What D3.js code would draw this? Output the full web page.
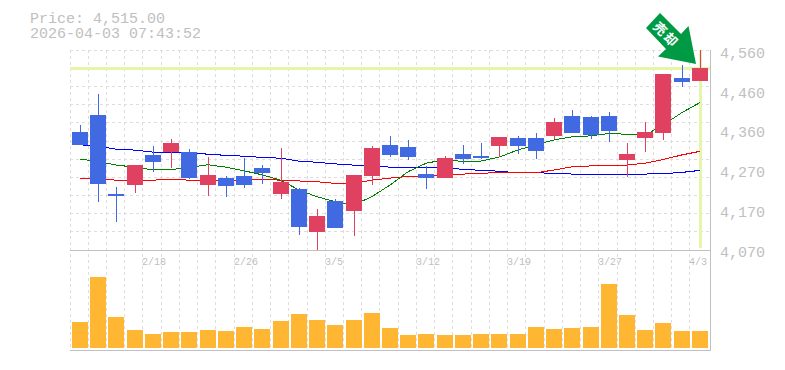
<!DOCTYPE html>
<html>
<head>
<meta charset="utf-8">
<script src="https://cdn.jsdelivr.net/npm/d3@7"></script>
<style>
html, body { margin: 0; padding: 0; background: #fff; }
svg { display: block; }
text { font-family: "Liberation Mono", monospace; }
</style>
</head>
<body>
<div class="container"></div>
<script>
var width = 785;
var height = 370;

var dates = ['2/12','2/13','2/16','2/17','2/18','2/19','2/20','2/24','2/25','2/26','2/27','3/2','3/3','3/4','3/5','3/6','3/9','3/10','3/11','3/12','3/13','3/16','3/17','3/18','3/19','3/23','3/24','3/25','3/26','3/27','3/30','3/31','4/1','4/2','4/3'];
var dateLabels = ['2/18','2/26','3/5','3/12','3/19','3/27','4/3'];

var opens = [4361,4402,4208,4230,4304,4311,4311,4230,4247,4252,4272,4208,4220,4114,4191,4166,4252,4329,4324,4257,4247,4306,4302,4326,4346,4346,4351,4400,4398,4400,4292,4346,4358,4494,4486];
var closes = [4329,4232,4203,4279,4287,4334,4247,4255,4228,4230,4260,4238,4127,4154,4124,4255,4321,4304,4299,4247,4297,4294,4297,4348,4326,4314,4385,4358,4353,4363,4306,4361,4503,4484,4518];
var highs = [4378,4454,4225,4279,4326,4343,4319,4299,4252,4297,4279,4321,4223,4171,4196,4255,4326,4351,4341,4277,4302,4329,4334,4348,4351,4358,4395,4415,4400,4410,4334,4385,4503,4526,4563];
var lows = [4329,4188,4139,4210,4262,4272,4245,4203,4200,4223,4232,4196,4107,4068,4124,4105,4230,4299,4292,4220,4247,4282,4294,4299,4306,4294,4343,4358,4343,4336,4250,4311,4341,4471,4486];

var maShort = [4294,4288,4279,4274,4267,4268,4273,4280,4274,4265,4255,4242,4218,4201,4189,4181,4201,4230,4263,4284,4292,4288,4289,4299,4316,4329,4341,4349,4351,4357,4355,4353,4378,4408,4433];
var maMid = [4247,4245,4242,4242,4242,4244,4242,4242,4242,4242,4244,4242,4240,4238,4234,4233,4242,4247,4251,4252,4256,4257,4258,4262,4260,4260,4267,4275,4277,4279,4279,4284,4293,4304,4313];
var maLong = [4329,4326,4318,4316,4311,4311,4309,4306,4303,4301,4298,4296,4289,4286,4282,4279,4278,4274,4274,4273,4271,4269,4266,4264,4260,4260,4259,4257,4257,4257,4257,4257,4258,4261,4266];

var volumes = [26,71,31,18,14,16,16,18,17,21,19,27,34,28,23,28,35,20,13,14,13,13,14,14,14,21,19,20,21,64,33,18,25,17,17];

var priceTicks = [4560,4462,4364,4266,4168,4070];
var priceLabels = ['4,560','4,460','4,360','4,270','4,170','4,070'];
var currentPrice = 4515;

var svg = d3.select('.container').append('svg')
	.attr('width', width)
	.attr('height', height);

var XScale = d3.scaleBand().domain(dates).range([70, 708.2]);
var YScale = d3.scaleLinear().domain([4070, 4560]).range([250, 51]);
var VolScale = d3.scaleLinear().domain([0, 98]).range([348, 250]);

var barX = function(d) { return Math.round(XScale(d) + 2); };
var px = function(v) { return Math.round(v); };

// background grid, same columns run through the volume panel
var gridCols = dates.map(function(d) { return Math.floor(XScale(d)) + 0.5; });
var gridRows = d3.range(11).map(function(i) { return Math.floor(50.3 + i * 18.15) + 0.5; });

var grid = svg.append('g').attr('stroke', '#ddd').attr('stroke-dasharray', '3,3');
grid.selectAll('.col').data(gridCols).enter().append('line')
	.attr('x1', function(d) { return d; }).attr('x2', function(d) { return d; })
	.attr('y1', 50).attr('y2', 350);
grid.selectAll('.row').data(gridRows).enter().append('line')
	.attr('x1', 70).attr('x2', 710)
	.attr('y1', function(d) { return d; }).attr('y2', function(d) { return d; });

// current price cross
svg.append('rect').attr('x', 70).attr('width', 640)
	.attr('y', px(YScale(currentPrice)) - 2).attr('height', 3).attr('fill', '#e5f5a9');
svg.append('rect').attr('x', barX('4/3') + 7).attr('width', 3)
	.attr('y', 50).attr('height', 198).attr('fill', '#e5f5a9');

// moving averages
var line = d3.line()
	.x(function(d, i) { return XScale(dates[i]) + 10; })
	.y(function(d) { return YScale(d); });
[[maLong, '#0000ff'], [maMid, '#ff0000'], [maShort, '#008000']].forEach(function(s) {
	svg.append('path').attr('d', line(s[0]))
		.attr('fill', 'none').attr('stroke', s[1]).attr('stroke-width', 1)
		.attr('shape-rendering', 'crispEdges');
});

// candles
var candles = svg.append('g').attr('shape-rendering', 'crispEdges');
var candleColor = function(i) { return closes[i] > opens[i] ? '#e14160' : '#4169e1'; };
candles.selectAll('.wick').data(dates).enter().append('rect')
	.attr('x', function(d) { return barX(d) + 8; })
	.attr('width', 1)
	.attr('y', function(d, i) { return px(YScale(highs[i])); })
	.attr('height', function(d, i) { return px(YScale(lows[i])) - px(YScale(highs[i])); })
	.attr('fill', function(d, i) { return candleColor(i); });
candles.selectAll('.body').data(dates).enter().append('rect')
	.attr('x', barX)
	.attr('width', 16)
	.attr('y', function(d, i) { return px(YScale(Math.max(opens[i], closes[i]))); })
	.attr('height', function(d, i) { return px(YScale(Math.min(opens[i], closes[i]))) - px(YScale(Math.max(opens[i], closes[i]))); })
	.attr('fill', function(d, i) { return candleColor(i); });

// volume
svg.append('g').attr('shape-rendering', 'crispEdges')
	.selectAll('rect').data(dates).enter().append('rect')
	.attr('x', barX)
	.attr('width', 16)
	.attr('y', function(d, i) { return VolScale(volumes[i]); })
	.attr('height', function(d, i) { return VolScale(0) - VolScale(volumes[i]); })
	.attr('fill', '#ffb733');

// frame
var frame = svg.append('g').attr('stroke', '#c0c0c0').attr('shape-rendering', 'crispEdges');
frame.append('line').attr('x1', 70).attr('x2', 711).attr('y1', 250.5).attr('y2', 250.5);
frame.append('line').attr('x1', 70).attr('x2', 711).attr('y1', 350.5).attr('y2', 350.5);
frame.append('line').attr('x1', 710.5).attr('x2', 710.5).attr('y1', 50).attr('y2', 351);

// price axis
var yAxis = d3.axisRight(YScale)
	.tickValues(priceTicks)
	.tickSize(0)
	.tickPadding(10)
	.tickFormat(function(d, i) { return priceLabels[i]; });
var yAxisG = svg.append('g').attr('transform', 'translate(710,1.5)').call(yAxis);
yAxisG.select('.domain').remove();
yAxisG.selectAll('text').attr('font-family', '"Liberation Mono", monospace').attr('font-size', 15).attr('fill', '#c0c0c0');

// date labels
svg.append('g').selectAll('text').data(dateLabels).enter().append('text')
	.attr('x', function(d) { return Math.floor(XScale(d)); })
	.attr('y', 265)
	.attr('font-size', 10)
	.attr('fill', '#c0c0c0')
	.text(function(d) { return d; });

// header
svg.append('text').attr('x', 30).attr('y', 23).attr('font-size', 15).attr('fill', '#c0c0c0').text('Price: 4,515.00');
svg.append('text').attr('x', 30).attr('y', 38).attr('font-size', 15).attr('fill', '#c0c0c0').text('2026-04-03 07:43:52');

// signal arrow on the last candle
var tipX = barX('4/3') + 4;
var tipY = px(YScale(currentPrice)) - 5;
var arrow = svg.append('g').attr('transform', 'translate(' + tipX + ',' + tipY + ')');
arrow.append('path')
	.attr('d', 'M0,0L-38,-7.5L-30,-15L-50,-36L-36,-51L-15,-30L-7.5,-38Z')
	.attr('fill', '#009944');
arrow.append('text')
	.attr('transform', 'translate(-30,-29) rotate(45)')
	.attr('text-anchor', 'middle')
	.attr('dy', 4.5)
	.attr('font-size', 13)
	.attr('font-weight', 'bold')
	.attr('letter-spacing', 2)
	.attr('fill', '#fff')
	.style('font-family', '"Noto Sans CJK JP"')
	.text('売却');
</script>
</body>
</html>
